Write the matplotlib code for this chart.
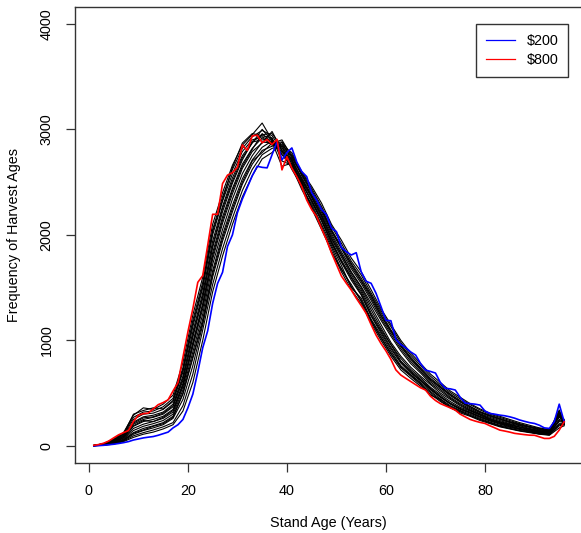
import numpy as np
import matplotlib
matplotlib.use("Agg")
import matplotlib.pyplot as plt
from matplotlib.lines import Line2D

# ---------------- data ----------------
ages = list(range(1, 97))

blue_200 = [0, 2, 5, 10, 15, 22, 30, 40, 55, 65, 75, 82, 88, 100, 115, 130, 170, 200, 250, 360,
            490, 700, 930, 1090, 1350, 1540, 1645, 1890, 2000, 2210, 2340, 2450, 2560, 2650, 2640, 2635,
            2760, 2880, 2710, 2780, 2824, 2690, 2600, 2552, 2400, 2330, 2240, 2190, 2063, 2031, 1880,
            1840, 1809, 1831, 1650, 1560, 1541, 1446, 1320, 1190, 1186, 1010, 960, 930, 890, 860, 780,
            718, 705, 690, 600, 545, 540, 529, 460, 405, 400, 395, 386, 330, 307, 300, 291, 285, 275,
            262, 245, 232, 220, 212, 195, 170, 165, 230, 395, 228]

red_800 = [5, 12, 25, 45, 75, 104, 125, 145, 230, 290, 305, 310, 350, 390, 410, 436, 520, 600, 840,
           1080, 1300, 1550, 1614, 1900, 2195, 2195, 2486, 2566, 2590, 2640, 2853, 2800, 2938, 2945,
           2873, 2905, 2857, 2905, 2616, 2742, 2632, 2550, 2457, 2330, 2240, 2173, 2060, 1952, 1830,
           1720, 1610, 1541, 1477, 1400, 1330, 1256, 1150, 1050, 970, 900, 820, 720, 671, 640, 610,
           580, 550, 529, 470, 430, 400, 380, 360, 339, 300, 275, 250, 235, 222, 212, 190, 170, 149,
           140, 130, 118, 112, 106, 101, 100, 85, 70, 70, 90, 149, 228]

black_ages = [1, 3, 5, 7, 9, 11, 13, 15, 17, 19, 21, 23, 25, 27, 29, 31, 33, 35, 37, 39, 41, 43, 45,
              47, 49, 51, 53, 55, 57, 59, 61, 63, 65, 67, 69, 71, 73, 75, 77, 79, 81, 83, 85, 87, 89,
              91, 93, 95, 96]

black_01 = [4, 22, 65, 125, 290, 360, 345, 395, 480, 790, 1240, 1600, 2100, 2400, 2660, 2850, 2950, 3060, 2900, 2760, 2640, 2430, 2250, 2050, 1850, 1650, 1480, 1350, 1160, 1000, 850, 720, 640, 565, 490, 420, 362, 312, 280, 240, 210, 180, 160, 140, 125, 110, 100, 170, 190]
black_02 = [3, 20, 58, 115, 270, 320, 330, 370, 450, 740, 1190, 1550, 2050, 2360, 2620, 2820, 2930, 2990, 2940, 2800, 2620, 2460, 2270, 2080, 1830, 1680, 1510, 1380, 1180, 1020, 870, 740, 660, 580, 505, 430, 360, 322, 290, 250, 220, 190, 165, 145, 130, 115, 105, 190, 200]
black_03 = [5, 18, 52, 105, 250, 300, 310, 345, 420, 700, 1130, 1500, 2000, 2320, 2580, 2790, 2900, 2930, 2880, 2650, 2680, 2450, 2290, 2100, 1900, 1710, 1500, 1400, 1200, 1050, 900, 760, 675, 600, 515, 445, 380, 335, 300, 260, 225, 195, 175, 155, 135, 120, 110, 210, 210]
black_04 = [2, 16, 47, 96, 225, 275, 290, 320, 395, 660, 1080, 1450, 1940, 2270, 2540, 2750, 2880, 2950, 2960, 2830, 2650, 2490, 2310, 2130, 1920, 1740, 1570, 1430, 1230, 1070, 920, 785, 690, 615, 530, 460, 395, 345, 310, 270, 235, 205, 180, 160, 140, 125, 115, 230, 220]
black_05 = [4, 15, 42, 88, 205, 250, 270, 300, 370, 620, 1030, 1400, 1880, 2220, 2490, 2710, 2880, 2900, 2910, 2780, 2700, 2480, 2330, 2150, 1940, 1760, 1600, 1460, 1260, 1100, 960, 805, 710, 630, 545, 470, 405, 355, 320, 280, 245, 215, 190, 165, 150, 130, 120, 250, 230]
black_06 = [1, 13, 38, 80, 185, 230, 250, 280, 345, 590, 980, 1350, 1830, 2170, 2440, 2670, 2820, 2920, 2850, 2850, 2670, 2510, 2350, 2170, 1960, 1790, 1620, 1480, 1290, 1120, 960, 830, 725, 645, 555, 485, 420, 365, 330, 290, 250, 220, 195, 175, 155, 135, 125, 270, 240]
black_07 = [3, 12, 34, 72, 165, 205, 230, 260, 320, 560, 940, 1300, 1770, 2110, 2390, 2630, 2790, 2870, 2980, 2800, 2720, 2520, 2370, 2190, 1990, 1820, 1650, 1510, 1350, 1190, 1040, 900, 780, 690, 590, 520, 450, 390, 340, 300, 260, 230, 205, 180, 160, 140, 130, 290, 250]
black_08 = [2, 10, 30, 64, 145, 185, 210, 240, 300, 530, 890, 1250, 1720, 2050, 2340, 2580, 2750, 2880, 2870, 2880, 2700, 2540, 2380, 2210, 2010, 1840, 1680, 1540, 1380, 1210, 1060, 920, 800, 705, 605, 535, 460, 400, 350, 305, 270, 240, 210, 190, 165, 145, 135, 310, 240]
black_09 = [1, 9, 27, 57, 125, 165, 190, 220, 280, 500, 850, 1200, 1660, 2000, 2280, 2530, 2710, 2830, 2890, 2820, 2750, 2560, 2400, 2230, 2030, 1870, 1700, 1560, 1400, 1230, 1080, 940, 820, 720, 620, 550, 475, 415, 360, 315, 280, 250, 220, 195, 175, 150, 140, 330, 230]
black_10 = [2, 8, 23, 50, 110, 145, 170, 200, 260, 440, 760, 1150, 1600, 1940, 2220, 2480, 2670, 2800, 2840, 2860, 2730, 2570, 2420, 2250, 2050, 1890, 1730, 1590, 1430, 1260, 1100, 960, 840, 740, 640, 565, 490, 430, 375, 325, 290, 260, 230, 205, 180, 160, 145, 340, 220]
black_11 = [0, 7, 20, 45, 95, 125, 150, 180, 220, 380, 680, 1100, 1530, 1870, 2160, 2420, 2620, 2760, 2820, 2840, 2780, 2590, 2440, 2270, 2080, 1920, 1750, 1620, 1450, 1280, 1130, 980, 860, 760, 660, 580, 505, 445, 390, 340, 300, 270, 240, 210, 185, 165, 150, 300, 210]
black_12 = [1, 5, 16, 40, 80, 110, 130, 160, 200, 330, 600, 1000, 1460, 1800, 2100, 2360, 2560, 2720, 2780, 2880, 2760, 2600, 2460, 2300, 2100, 1950, 1780, 1650, 1480, 1300, 1150, 1000, 880, 780, 680, 600, 520, 460, 400, 350, 310, 280, 250, 220, 195, 170, 155, 280, 200]
black_13 = [3, 19, 55, 110, 300, 335, 360, 350, 430, 720, 1160, 1520, 2030, 2330, 2640, 2870, 2960, 2940, 2920, 2700, 2660, 2470, 2260, 2070, 1880, 1670, 1530, 1370, 1190, 1030, 880, 750, 670, 590, 480, 440, 370, 330, 285, 250, 215, 185, 165, 145, 130, 112, 105, 200, 205]
black_14 = [2, 12, 36, 78, 190, 240, 230, 270, 335, 575, 960, 1330, 1800, 2140, 2420, 2650, 2810, 2960, 2870, 2790, 2710, 2530, 2360, 2180, 1970, 1810, 1640, 1500, 1320, 1150, 980, 850, 745, 660, 580, 500, 440, 380, 335, 295, 255, 225, 200, 178, 158, 138, 128, 280, 235]
black_15 = [1, 8, 25, 54, 120, 150, 185, 210, 270, 490, 830, 1170, 1630, 1970, 2250, 2500, 2700, 2780, 2870, 2900, 2740, 2580, 2410, 2240, 2040, 1880, 1720, 1570, 1420, 1240, 1090, 950, 830, 730, 630, 555, 485, 420, 370, 320, 285, 255, 225, 200, 178, 155, 142, 320, 225]
black_16 = [3, 15, 45, 92, 215, 265, 275, 310, 380, 640, 1050, 1420, 1900, 2250, 2510, 2730, 2870, 3000, 2890, 2760, 2690, 2500, 2320, 2140, 1930, 1750, 1590, 1440, 1240, 1085, 935, 795, 700, 620, 538, 465, 400, 350, 315, 275, 240, 210, 185, 162, 145, 128, 118, 240, 225]

black_lines = [black_01, black_02, black_03, black_04, black_05, black_06, black_07, black_08,
               black_09, black_10, black_11, black_12, black_13, black_14, black_15, black_16]

x_ticks = [0, 20, 40, 60, 80]
y_ticks = [0, 1000, 2000, 3000, 4000]
legend_labels = ["$200", "$800"]

# ---------------- figure ----------------
plt.rcParams['font.family'] = ['Liberation Sans', 'DejaVu Sans']
FS = 10.4
W, H = 581, 533
fig = plt.figure(figsize=(W / 100, H / 100), dpi=100)
ax = fig.add_axes([75 / W, 1 - 462.7 / H, (583 - 75) / W, (462.7 - 7) / H])

for ys in black_lines:
    ax.plot(black_ages, ys, color='black', lw=0.8)
ax.plot(ages, blue_200, color='#0000FF', lw=1.2)
ax.plot(ages, red_800, color='#FF0000', lw=1.2)

ax.set_xlim(-2.8, 99.8)
ax.set_ylim(-160, 4160)
ax.set_xticks(x_ticks)
ax.set_yticks(y_ticks)
ax.set_yticklabels([str(v) for v in y_ticks], rotation=90, va='center')
ax.tick_params(axis='both', direction='out', length=6.5, width=0.9, labelsize=FS, color='#333333')
ax.tick_params(axis='x', pad=9)
ax.tick_params(axis='y', pad=9)
for s in ax.spines.values():
    s.set_linewidth(1.0)
    s.set_color('#333333')

fig.text(328 / W, 1 - 523 / H, "Stand Age (Years)", ha='center', va='center', fontsize=FS)
fig.text(14 / W, 1 - 235 / H, "Frequency of Harvest Ages", ha='center', va='center',
         rotation=90, fontsize=FS)

handles = [Line2D([], [], color='#0000FF', lw=0.9), Line2D([], [], color='#FF0000', lw=0.9)]
leg = fig.legend(handles, legend_labels, loc='upper right',
                 bbox_to_anchor=(568 / W, 1 - 24 / H), bbox_transform=fig.transFigure,
                 fontsize=FS, frameon=True, fancybox=False, framealpha=1,
                 handlelength=2.0, handletextpad=0.8, borderpad=0.68, labelspacing=0.35,
                 borderaxespad=0)
leg.get_frame().set_edgecolor('#333333')
leg.get_frame().set_linewidth(1.0)

fig.savefig("out.png", dpi=100)
